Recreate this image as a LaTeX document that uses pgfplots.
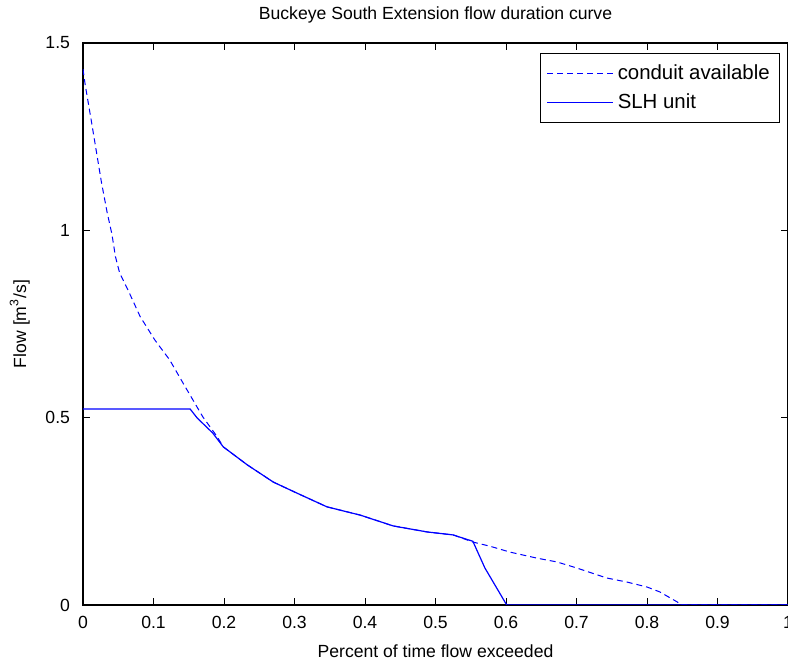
\documentclass[border=0pt]{standalone}
\usepackage{fontspec}
\setmainfont{Liberation Sans}
\usepackage{pgfplots}
\pgfplotsset{compat=1.18}
\definecolor{mblue}{RGB}{0,0,255}

\begin{document}
\fontsize{8.5}{10}\selectfont
\begin{tikzpicture}
\begin{axis}[
  name=ax,
  scale only axis,
  width=352.5pt, height=281pt,
  xmin=0, xmax=1, ymin=0, ymax=1.5,
  xtick={0,0.1,...,1.0},
  ytick={0,0.5,1,1.5},
  tick align=inside,
  major tick length=3.5pt,
  tick style={black, line width=0.5pt},
  axis line style={black, line width=0.7pt},
  /pgf/number format/assume math mode=true,
  ticklabel style={font=\fontsize{8.8}{10}\selectfont},
  xticklabel style={yshift=-2.5pt},
  yticklabel style={xshift=-3.5pt},
  title={Buckeye South Extension flow duration curve},
  title style={yshift=1pt, font=\fontsize{8.8}{10}\selectfont},
  xlabel={Percent of time flow exceeded},
  ylabel={Flow [m\textsuperscript{3}/s]},
  label style={font=\fontsize{8.8}{10}\selectfont},
  xlabel style={yshift=-2pt},
  ylabel style={yshift=2pt},
  legend style={at={(0.989,0.982)}, anchor=north east, draw=black,
    line width=0.5pt, font=\fontsize{10.2}{12}\selectfont,
    inner xsep=3pt, inner ysep=3.5pt, row sep=2pt},
  legend cell align=left,
  legend image code/.code={\draw[mblue, #1] (0pt,0pt) -- (33pt,0pt);},
]
\addplot[mblue, line width=0.5pt, dash pattern=on 3pt off 2pt] coordinates {
  (0,1.43)(0.003,1.39)(0.012,1.29)(0.019,1.21)(0.026,1.13)(0.034,1.05)
  (0.041,0.99)(0.046,0.93)(0.052,0.886)(0.064,0.84)(0.081,0.77)
  (0.102,0.707)(0.123,0.654)(0.142,0.592)(0.156,0.547)(0.17,0.502)
  (0.19,0.45)(0.199,0.422)(0.233,0.374)(0.270,0.328)(0.303,0.299)
  (0.346,0.262)(0.393,0.240)(0.440,0.211)(0.488,0.195)(0.525,0.187)
  (0.553,0.168)(0.577,0.157)(0.606,0.141)(0.644,0.125)(0.672,0.115)
  (0.70,0.099)(0.743,0.072)(0.772,0.061)(0.80,0.048)(0.818,0.035)
  (0.843,0.008)(0.848,0)(1,0)
};
\addlegendentry{conduit available}
\addplot[mblue, line width=0.6pt] coordinates {
  (0,0.523)(0.152,0.523)(0.162,0.499)(0.184,0.459)(0.199,0.422)
  (0.233,0.374)(0.270,0.328)(0.303,0.299)(0.346,0.262)(0.393,0.240)
  (0.440,0.211)(0.488,0.195)(0.525,0.187)(0.553,0.170)(0.570,0.099)
  (0.601,0)(1,0)
};
\addlegendentry{SLH unit}
\end{axis}
\pgfresetboundingbox
\path ([xshift=-41.5pt,yshift=-28.5pt]ax.south west) rectangle ([yshift=21.5pt]ax.north east);
\end{tikzpicture}
\end{document}
